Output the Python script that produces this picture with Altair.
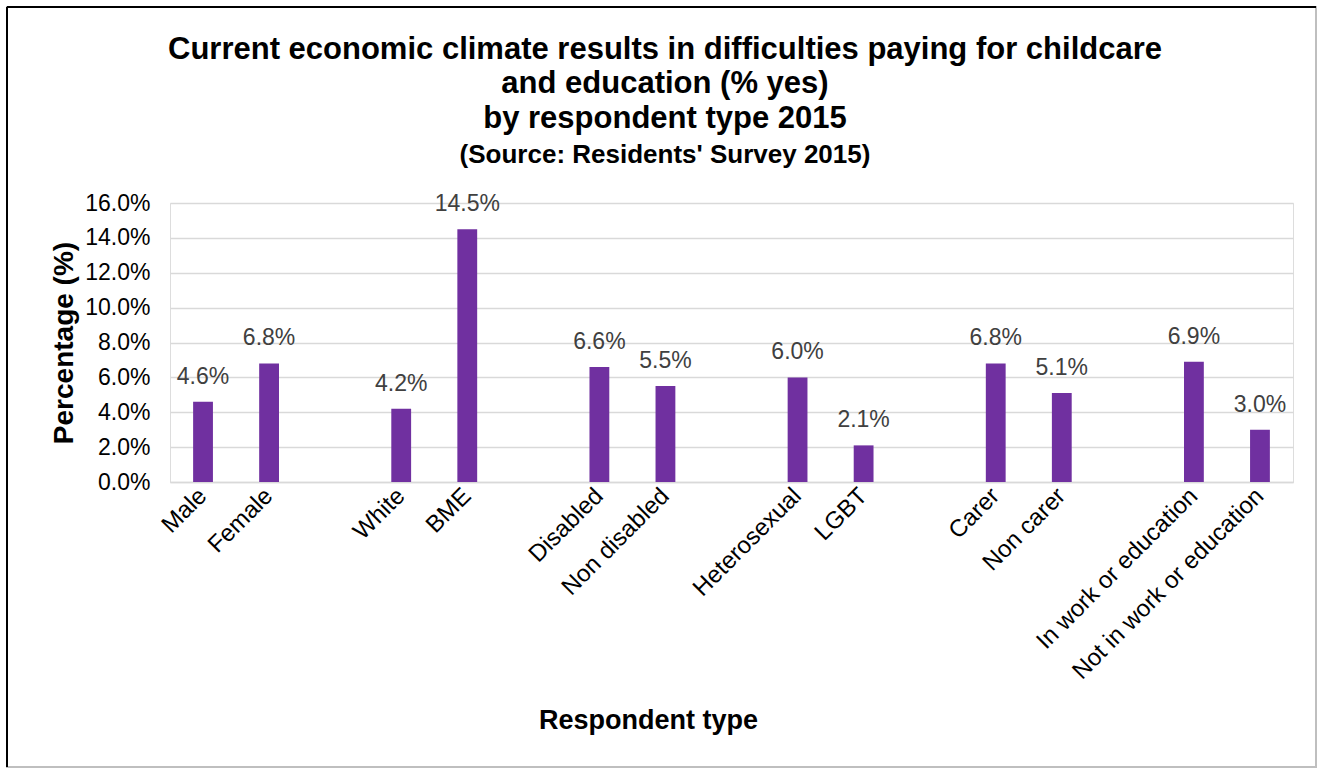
import altair as alt
import pandas as pd

categories = ["Male", "Female", " ", "White", "BME", "  ", "Disabled", "Non disabled", "   ",
              "Heterosexual", "LGBT", "    ", "Carer", "Non carer", "     ",
              "In work or education", "Not in work or education"]
respondents = ["Male", "Female", "White", "BME", "Disabled", "Non disabled",
               "Heterosexual", "LGBT", "Carer", "Non carer",
               "In work or education", "Not in work or education"]
values = [4.6, 6.8, 4.2, 14.5, 6.6, 5.5, 6.0, 2.1, 6.8, 5.1, 6.9, 3.0]
y_ticks = [0, 2, 4, 6, 8, 10, 12, 14, 16]
title_lines = ["Current economic climate results in difficulties paying for childcare",
               "and education (% yes)", "by respondent type 2015"]
subtitle_line = "(Source: Residents' Survey 2015)"

df = pd.DataFrame({"cat": respondents, "val": values})
df["lab"] = df["val"].map(lambda v: f"{v:.1f}%")

FONT = "Liberation Sans"
W, H = 1123, 279

x = alt.X("cat:N", sort=categories,
          scale=alt.Scale(domain=categories, paddingInner=0.7, paddingOuter=0.35),
          axis=alt.Axis(title="Respondent type", labelAngle=-45, labelAlign="right",
                        labelBaseline="middle", labelPadding=10, labelFontSize=24,
                        labelFont=FONT, labelColor="#000000", labelExpr="trim(datum.label)",
                        labelLimit=0, ticks=False, domain=True, domainColor="#d9d9d9",
                        domainWidth=1.5,
                        titleFont=FONT, titleFontSize=27, titleFontWeight="bold",
                        titleColor="#000000", titleX=478, titleY=238, titleAnchor="middle",
                        titleBaseline="middle"))
y = alt.Y("val:Q", scale=alt.Scale(domain=[0, 16]),
          axis=alt.Axis(title="Percentage (%)", values=y_ticks,
                        labelExpr="format(datum.value, '.1f') + '%'",
                        labelFontSize=23, labelFont=FONT, labelColor="#000000",
                        labelPadding=20, ticks=False, domain=False,
                        gridColor="#d9d9d9", gridWidth=1.5,
                        titleFont=FONT, titleFontSize=28, titleFontWeight="bold",
                        titleColor="#000000", titlePadding=6))

bars = alt.Chart(df).mark_bar(color="#7030A0").encode(x=x, y=y)
text = alt.Chart(df).mark_text(baseline="bottom", dy=-13, fontSize=23, font=FONT,
                               color="#404040").encode(x=x, y=y, text="lab:N")

frame = alt.Chart(df).mark_rect(fill=None, stroke="#bfbfbf", strokeWidth=2, clip=False).encode(
    x=alt.value(-163), x2=alt.value(1146), y=alt.value(-196), y2=alt.value(564))
left_edge = alt.Chart(df).mark_rule(color="#000000", strokeWidth=2, clip=False).encode(
    x=alt.value(-163), y=alt.value(-196), y2=alt.value(564))
top_edge = alt.Chart(df).mark_rule(color="#000000", strokeWidth=2, clip=False).encode(
    x=alt.value(-163), x2=alt.value(1146), y=alt.value(-196))

title_layers = []
for line, yy in zip(title_lines, [-153, -119, -84]):
    title_layers.append(
        alt.Chart(pd.DataFrame({"t": [line]})).mark_text(
            font=FONT, fontSize=31, fontWeight="bold", color="#000000",
            align="center", baseline="middle", clip=False
        ).encode(text="t:N", x=alt.value(495), y=alt.value(yy)))
title_layers.append(
    alt.Chart(pd.DataFrame({"t": [subtitle_line]})).mark_text(
        font=FONT, fontSize=26, fontWeight="bold", color="#000000",
        align="center", baseline="middle", clip=False
    ).encode(text="t:N", x=alt.value(495), y=alt.value(-48)))

chart = alt.layer(frame, left_edge, top_edge, bars, text, *title_layers).properties(
    width=W, height=H,
    autosize=alt.AutoSizeParams(type="none"),
    padding={"left": 170, "top": 203, "right": 30, "bottom": 289},
).configure_view(stroke=None).configure(background="white")

chart.save("out.html", embed_options={"renderer": "svg", "actions": False})
